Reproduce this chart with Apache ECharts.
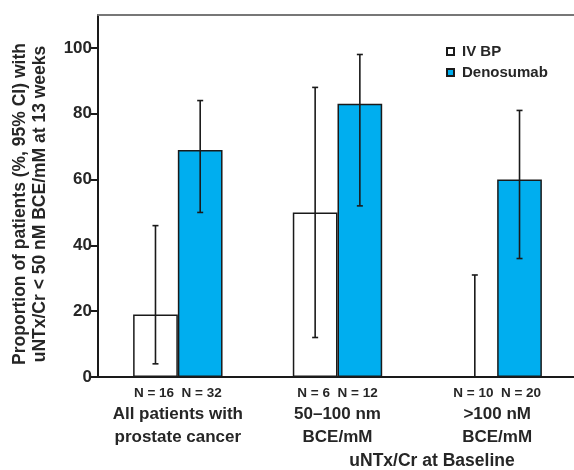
<!DOCTYPE html>
<html>
<head>
<meta charset="utf-8">
<script src="https://cdn.jsdelivr.net/npm/echarts@6/dist/echarts.min.js"></script>
<style>
  html, body { margin: 0; padding: 0; background: #fff; }
  #chart { width: 574px; height: 470px; }
</style>
</head>
<body>
<div id="chart"></div>
<script>
var groups = ['All patients with\nprostate cancer', '50\u2013100 nm\nBCE/mM', '>100 nM\nBCE/mM'];
var nLabels = ['N = 16  N = 32', 'N = 6  N = 12', 'N = 10  N = 20'];
var ivbp = [19, 50, 0];
var ivbpLow = [4, 12, 0];
var ivbpHigh = [46, 88, 31];
var deno = [69, 83, 60];
var denoLow = [50, 52, 36];
var denoHigh = [84, 98, 81];
var yTicks = [0, 20, 40, 60, 80, 100];

var font = 'Liberation Sans, Arial, sans-serif';
var ink = '#262626';

// error bar data: [category, low, high]
function errData(low, high) {
    var out = [];
    for (var i = 0; i < low.length; i++) {
        out.push([i, low[i], high[i]]);
    }
    return out;
}

// offset: -1 for left bar, +1 for right bar
function errRender(offset) {
    return function (params, api) {
        var cat = api.value(0);
        var lo = api.coord([cat, api.value(1)]);
        var hi = api.coord([cat, api.value(2)]);
        var band = api.size([1, 0])[0];
        var x = lo[0] + offset * band * 0.14;
        var cap = 3;
        var style = { stroke: '#1a1a1a', lineWidth: 1.6 };
        return {
            type: 'group',
            children: [
                { type: 'line', shape: { x1: x, y1: lo[1], x2: x, y2: hi[1] }, style: style },
                { type: 'line', shape: { x1: x - cap, y1: hi[1], x2: x + cap, y2: hi[1] }, style: style },
                { type: 'line', shape: { x1: x - cap, y1: lo[1], x2: x + cap, y2: lo[1] }, style: style }
            ]
        };
    };
}

var chart = echarts.init(document.getElementById('chart'));
chart.setOption({
    animation: false,
    textStyle: { fontFamily: font, fontWeight: 'bold' },
    grid: { left: 98, top: 15, width: 479, bottom: 93, outerBoundsMode: 'none', containLabel: false },
    legend: {
        orient: 'vertical',
        left: 441,
        top: 39,
        itemWidth: 7,
        itemHeight: 7,
        itemGap: 6,
        icon: 'rect',
        textStyle: { fontSize: 15, fontWeight: 'bold', color: ink, fontFamily: font, padding: [0, 0, 0, 3] },
        data: ['IV BP', 'Denosumab']
    },
    xAxis: [{
        type: 'category',
        data: groups,
        axisLine: { lineStyle: { color: '#1a1a1a', width: 2 } },
        axisTick: { length: 6, lineStyle: { color: '#1a1a1a', width: 2 } },
        axisLabel: {
            margin: 6,
            formatter: function (v, i) {
                var parts = v.split('\n');
                return '{n|' + nLabels[i] + '}\n{c|' + parts[0] + '}\n{c|' + parts[1] + '}';
            },
            rich: {
                n: { fontSize: 13.5, fontWeight: 'bold', lineHeight: 20, color: ink, fontFamily: font },
                c: { fontSize: 17, fontWeight: 'bold', lineHeight: 23, color: ink, fontFamily: font }
            }
        }
    }, {
        type: 'category',
        position: 'top',
        data: groups,
        axisLine: { lineStyle: { color: '#777', width: 2 } },
        axisTick: { show: false },
        axisLabel: { show: false }
    }],
    yAxis: {
        type: 'value',
        min: 0,
        max: 110,
        interval: 10,
        name: 'Proportion of patients (%, 95% CI) with\nuNTx/Cr < 50 nM BCE/mM at 13 weeks',
        nameLocation: 'middle',
        nameGap: 48,
        nameTextStyle: { fontSize: 17.5, fontWeight: 'bold', lineHeight: 20, color: ink, fontFamily: font, padding: [0, 16, 0, 0] },
        axisLine: { show: true, lineStyle: { color: '#1a1a1a', width: 2 } },
        axisTick: { show: true, length: 8, customValues: yTicks, lineStyle: { color: '#1a1a1a', width: 2 } },
        axisLabel: { customValues: yTicks, fontSize: 17, fontWeight: 'bold', color: ink, margin: 6 },
        splitLine: { show: false }
    },
    graphic: [{
        type: 'text',
        x: 432,
        y: 452,
        style: { text: 'uNTx/Cr at Baseline', fontSize: 17.5, fontWeight: 'bold', fill: ink, fontFamily: font, textAlign: 'center' }
    }],
    series: [{
        name: 'IV BP',
        type: 'bar',
        data: ivbp,
        barWidth: '28%',
        barGap: '0%',
        itemStyle: { color: '#fff', borderColor: '#1a1a1a', borderWidth: 1.5 }
    }, {
        name: 'Denosumab',
        type: 'bar',
        data: deno,
        barWidth: '28%',
        barGap: '0%',
        itemStyle: { color: '#00AEEF', borderColor: '#1a1a1a', borderWidth: 1.5 }
    }, {
        type: 'custom',
        data: errData(ivbpLow, ivbpHigh),
        renderItem: errRender(-1),
        z: 5
    }, {
        type: 'custom',
        data: errData(denoLow, denoHigh),
        renderItem: errRender(1),
        z: 5
    }]
});
</script>
</body>
</html>
